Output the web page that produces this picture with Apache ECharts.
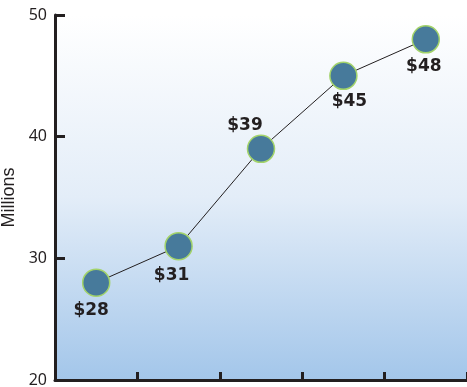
<!DOCTYPE html>
<html lang="en">
<head>
    <meta charset="UTF-8"/>
    <title>Millions</title>
    <style>
        html, body {
            margin: 0;
            padding: 0;
            width: 467px;
            height: 387px;
            background: #ffffff;
            overflow: hidden;
        }

        #chart {
            width: 467px;
            height: 387px;
        }
    </style>
</head>
<body>
<div id="chart"></div>
<script src="https://cdn.jsdelivr.net/npm/echarts@6/dist/echarts.min.js"></script>
<script>
    // Data
    const categories = ['1', '2', '3', '4', '5'];
    const values = [28, 31, 39, 45, 48];
    const yTicks = [20, 30, 40, 50];
    const yName = 'Millions';

    const ink = '#231f20';

    // label placement per point (below, except the third one)
    const labelOffsets = [[-5, 28], [-7, 29], [-16, -23], [6, 26], [-2, 27]];

    const chart = echarts.init(document.getElementById('chart'));

    const option = {
        backgroundColor: '#ffffff',
        animation: false,
        grid: {
            left: 55,
            right: 0,
            top: 15,
            bottom: 7,
            containLabel: false,
            outerBoundsMode: 'none',
            show: true,
            borderWidth: 0,
            backgroundColor: {
                type: 'linear', x: 0, y: 0, x2: 0, y2: 1,
                colorStops: [
                    {offset: 0, color: '#ffffff'},
                    {offset: 0.5, color: '#e3edf8'},
                    {offset: 1, color: '#a3c6ea'}
                ]
            }
        },
        xAxis: {
            type: 'category',
            data: categories,
            boundaryGap: true,
            axisLine: {lineStyle: {color: ink, width: 3}},
            axisTick: {show: true, inside: true, length: 8, lineStyle: {color: ink, width: 3}},
            axisLabel: {show: false},
            splitLine: {show: false}
        },
        yAxis: {
            type: 'value',
            min: yTicks[0],
            max: yTicks[yTicks.length - 1],
            interval: 10,
            name: yName,
            nameLocation: 'middle',
            nameGap: 35,
            nameRotate: 90,
            nameTextStyle: {color: ink, fontFamily: 'Liberation Sans', fontSize: 18},
            axisLine: {show: true, lineStyle: {color: ink, width: 3}},
            axisTick: {show: true, inside: true, length: 10, lineStyle: {color: ink, width: 3}},
            axisLabel: {color: ink, fontFamily: 'Noto Sans', fontSize: 16, margin: 8},
            splitLine: {show: false}
        },
        series: [{
            type: 'line',
            data: values.map((v, i) => ({
                value: v,
                label: {offset: labelOffsets[i]}
            })),
            symbol: 'circle',
            symbolSize: 27,
            lineStyle: {color: ink, width: 1},
            itemStyle: {color: '#477a9b', borderColor: '#a3d36a', borderWidth: 1.5},
            label: {
                show: true,
                position: 'inside',
                formatter: p => '$' + p.value,
                color: ink,
                fontFamily: 'DejaVu Sans',
                fontWeight: 'bold',
                fontSize: 17
            },
            z: 3
        }]
    };

    chart.setOption(option);
</script>
</body>
</html>
